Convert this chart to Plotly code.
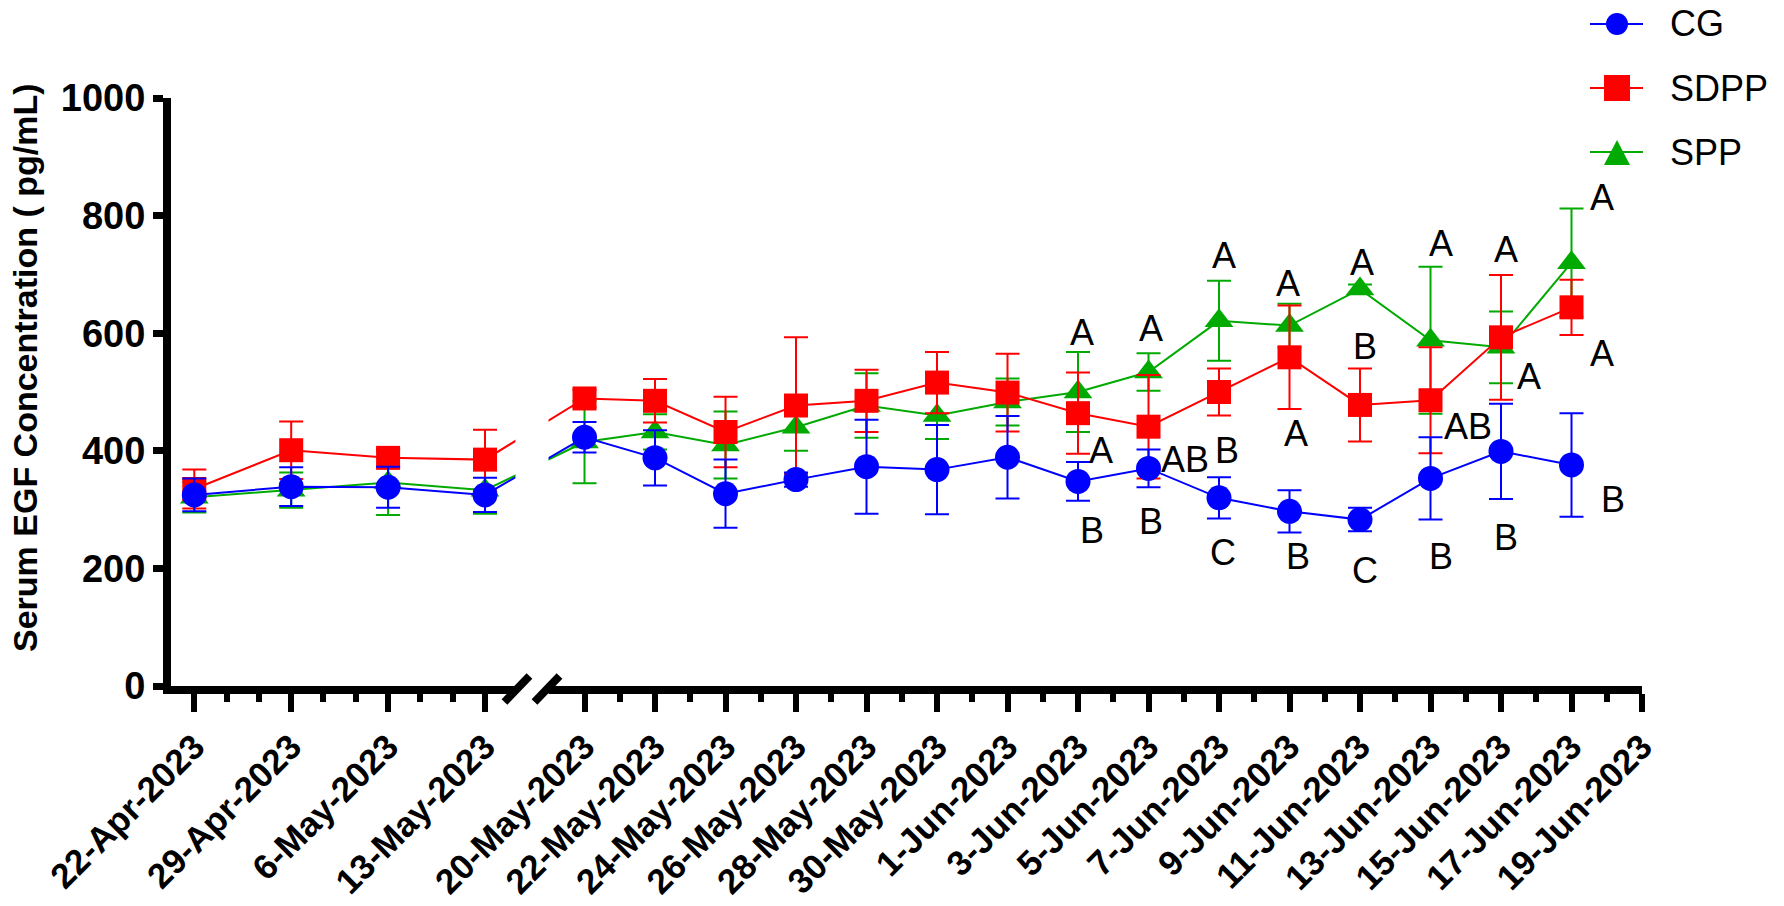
import plotly.graph_objects as go
from datetime import date

# ---------------- data ----------------
dates = ["2023-04-22", "2023-04-29", "2023-05-06", "2023-05-13",
         "2023-05-20", "2023-05-22", "2023-05-24", "2023-05-26", "2023-05-28", "2023-05-30",
         "2023-06-01", "2023-06-03", "2023-06-05", "2023-06-07", "2023-06-09", "2023-06-11",
         "2023-06-13", "2023-06-15", "2023-06-17"]

cg_mean = [325, 339, 338, 325, 423, 388, 327, 351, 373, 368, 389, 348, 370, 320, 297, 283, 353, 399, 376]
cg_err = [28, 33, 35, 29, 26, 47, 58, 12, 80, 76, 70, 33, 32, 35, 36, 20, 70, 81, 88]

sdpp_mean = [335, 401, 388, 385, 489, 485, 432, 477, 485, 516, 499, 464, 441, 500, 559, 478, 486, 593, 644]
sdpp_err = [33, 49, 15, 51, 15, 37, 60, 116, 53, 52, 66, 69, 88, 40, 88, 62, 90, 106, 47]

spp_mean = [321, 333, 346, 333, 415, 432, 410, 440, 477, 460, 483, 500, 534, 621, 613, 675, 588, 576, 720]
spp_err = [26, 30, 55, 40, 70, 30, 57, 40, 55, 40, 40, 68, 32, 68, 37, 8, 125, 61, 92]

tick_dates_seg1 = ["2023-04-22", "2023-04-29", "2023-05-06", "2023-05-13"]
tick_dates_seg2 = ["2023-05-20", "2023-05-22", "2023-05-24", "2023-05-26", "2023-05-28",
                   "2023-05-30", "2023-06-01", "2023-06-03", "2023-06-05", "2023-06-07",
                   "2023-06-09", "2023-06-11", "2023-06-13", "2023-06-15", "2023-06-17",
                   "2023-06-19"]
tick_labels = ["22-Apr-2023", "29-Apr-2023", "6-May-2023", "13-May-2023",
               "20-May-2023", "22-May-2023", "24-May-2023", "26-May-2023", "28-May-2023",
               "30-May-2023", "1-Jun-2023", "3-Jun-2023", "5-Jun-2023", "7-Jun-2023",
               "9-Jun-2023", "11-Jun-2023", "13-Jun-2023", "15-Jun-2023", "17-Jun-2023",
               "19-Jun-2023"]

# significance letters
letter_dates = ["2023-06-03", "2023-06-03", "2023-06-03",
                "2023-06-05", "2023-06-05", "2023-06-05",
                "2023-06-07", "2023-06-07", "2023-06-07",
                "2023-06-09", "2023-06-09", "2023-06-09",
                "2023-06-11", "2023-06-11", "2023-06-11",
                "2023-06-13", "2023-06-13", "2023-06-13",
                "2023-06-15", "2023-06-15", "2023-06-15",
                "2023-06-17", "2023-06-17", "2023-06-17"]
letter_values = [602, 401, 264,
                 608, 386, 280,
                 733, 401, 227,
                 684, 430, 220,
                 721, 578, 196,
                 752, 442, 220,
                 743, 526, 252,
                 830, 565, 318]
letter_text = ["A", "A", "B",
               "A", "AB", "B",
               "A", "B", "C",
               "A", "A", "B",
               "A", "B", "C",
               "A", "AB", "B",
               "A", "A", "B",
               "A", "A", "B"]
letter_dx = [4, 23, 14,
             2, 36, 2,
             5, 8, 4,
             -2, 6, 8,
             2, 5, 5,
             10, 37, 10,
             5, 28, 5,
             30, 30, 41]

series_names = ["CG", "SDPP", "SPP"]

# ---------------- broken x-axis scale ----------------
SEG1_START = date(2023, 4, 22)
SEG1_SCALE = 1.0          # units per day (weekly part)
SEG2_START = date(2023, 5, 20)
SEG2_POS0 = 28.19
SEG2_SCALE = 2.5465       # units per day (daily part)
XMIN = -1.683
XMAX = SEG2_POS0 + 30 * SEG2_SCALE
GAP_LO, GAP_HI = 23.2, 25.59      # hidden gap
SLASHES = [23.31, 25.48]

W, H = 1784, 906
ML, MR, MT, MB = 171, 142, 98, 220
PW, PH = W - ML - MR, H - MT - MB


def pos(d):
    d = date.fromisoformat(d)
    if d < SEG2_START:
        return (d - SEG1_START).days * SEG1_SCALE
    return SEG2_POS0 + (d - SEG2_START).days * SEG2_SCALE


def paper_x(p):
    return (p - XMIN) / (XMAX - XMIN)


def px2paper(px, py):
    return (px - ML) / PW, (H - MB - py) / PH


x_pos = [pos(d) for d in dates]
major1 = [pos(d) for d in tick_dates_seg1]
major2 = [pos(d) for d in tick_dates_seg2]
minor = []
for a, b in zip(major1[:-1], major1[1:]):
    minor += [a + (b - a) / 3, a + 2 * (b - a) / 3]
for a, b in zip(major2[:-1], major2[1:]):
    minor.append((a + b) / 2)

FONT = "Liberation Sans, Arial, sans-serif"
BLUE, RED, GREEN = "#0000FF", "#FF0000", "#00AA00"

fig = go.Figure()


def add_series(name, mean, err, color, symbol, size):
    fig.add_trace(go.Scatter(
        x=x_pos, y=mean, name=name, mode="lines+markers",
        line=dict(color=color, width=2),
        marker=dict(color=color, symbol=symbol, size=size, line=dict(width=0)),
        error_y=dict(type="data", array=err, visible=True, color=color,
                     thickness=2, width=12),
        showlegend=False,
    ))


add_series("SPP", spp_mean, spp_err, GREEN, "triangle-up", 25)
add_series("SDPP", sdpp_mean, sdpp_err, RED, "square", 24)
add_series("CG", cg_mean, cg_err, BLUE, "circle", 25)

annotations = []
for d, v, t, dx in zip(letter_dates, letter_values, letter_text, letter_dx):
    annotations.append(dict(x=pos(d), y=v, xref="x", yref="y", text=t, showarrow=False,
                            xshift=dx, font=dict(family=FONT, size=36, color="black")))

annotations.append(dict(
    x=px2paper(25, 0)[0], y=px2paper(0, 368)[1], xref="paper", yref="paper",
    xanchor="center", yanchor="middle",
    text="Serum EGF Concentration ( pg/mL)", textangle=-90, showarrow=False,
    font=dict(family=FONT, size=34, color="black", weight="bold")))

shapes = [dict(type="rect", xref="paper", yref="paper",
               x0=paper_x(GAP_LO), x1=paper_x(GAP_HI), y0=-0.035, y1=1.0,
               fillcolor="white", line=dict(width=0), layer="above")]
for s in SLASHES:
    shapes.append(dict(type="line", xref="paper", yref="paper",
                       xsizemode="pixel", ysizemode="pixel",
                       xanchor=paper_x(s), yanchor=0,
                       x0=-12.5, x1=12.5, y0=-16, y1=10,
                       line=dict(color="black", width=8), layer="above"))

# ---------------- hand-built legend ----------------
LEG_X0, LEG_X1, LEG_MX, LEG_TX = 1590, 1643, 1617, 1668
LEG_Y = [24, 88, 152]
leg_colors = [BLUE, RED, GREEN]
for name, col, ly in zip(series_names, leg_colors, LEG_Y):
    a = px2paper(LEG_X0, ly)
    b = px2paper(LEG_X1, ly)
    shapes.append(dict(type="line", xref="paper", yref="paper", x0=a[0], y0=a[1],
                       x1=b[0], y1=b[1], line=dict(color=col, width=2), layer="above"))
    if name == "CG":
        p0 = px2paper(LEG_MX - 11, ly + 11)
        p1 = px2paper(LEG_MX + 11, ly - 11)
        shapes.append(dict(type="circle", xref="paper", yref="paper", x0=p0[0], y0=p0[1],
                           x1=p1[0], y1=p1[1], fillcolor=col, line=dict(width=0),
                           layer="above"))
    elif name == "SDPP":
        p0 = px2paper(LEG_MX - 13, ly + 13)
        p1 = px2paper(LEG_MX + 13, ly - 13)
        shapes.append(dict(type="rect", xref="paper", yref="paper", x0=p0[0], y0=p0[1],
                           x1=p1[0], y1=p1[1], fillcolor=col, line=dict(width=0),
                           layer="above"))
    else:
        q1 = px2paper(LEG_MX - 13, ly + 13)
        q2 = px2paper(LEG_MX + 13, ly + 13)
        q3 = px2paper(LEG_MX, ly - 12)
        path = "M %f,%f L %f,%f L %f,%f Z" % (q1[0], q1[1], q2[0], q2[1], q3[0], q3[1])
        shapes.append(dict(type="path", xref="paper", yref="paper", path=path,
                           fillcolor=col, line=dict(width=0), layer="above"))
    t = px2paper(LEG_TX, ly)
    annotations.append(dict(x=t[0], y=t[1], xref="paper", yref="paper", text=name,
                            xanchor="left", yanchor="middle", showarrow=False,
                            font=dict(family=FONT, size=36, color="black")))

fig.update_layout(
    width=W, height=H,
    margin=dict(l=ML, r=MR, t=MT, b=MB, autoexpand=False),
    paper_bgcolor="white", plot_bgcolor="white",
    font=dict(family=FONT, color="black"),
    showlegend=False,
    annotations=annotations,
    shapes=shapes,
    xaxis=dict(
        range=[XMIN, XMAX], showgrid=False, zeroline=False, automargin=False,
        showline=True, linecolor="black", linewidth=8,
        tickmode="array", tickvals=major1 + major2, ticktext=tick_labels,
        ticks="outside", ticklen=18, tickwidth=6, tickcolor="black",
        tickangle=-45,
        tickfont=dict(family=FONT, size=35, color="black", weight="bold"),
        minor=dict(tickmode="array", tickvals=minor, ticks="outside",
                   ticklen=8, tickwidth=6, tickcolor="black", showgrid=False),
    ),
    yaxis=dict(
        range=[0, 1000], showgrid=False, zeroline=False, automargin=False,
        showline=True, linecolor="black", linewidth=8,
        tickmode="array", tickvals=[0, 200, 400, 600, 800, 1000],
        ticks="outside", ticklen=10, tickwidth=7, tickcolor="black",
        tickfont=dict(family=FONT, size=38, color="black", weight="bold"),
    ),
)

fig.write_html("out.html", config={"displayModeBar": False},
               post_script="document.body.style.margin='0px';document.body.style.overflow='hidden';")
